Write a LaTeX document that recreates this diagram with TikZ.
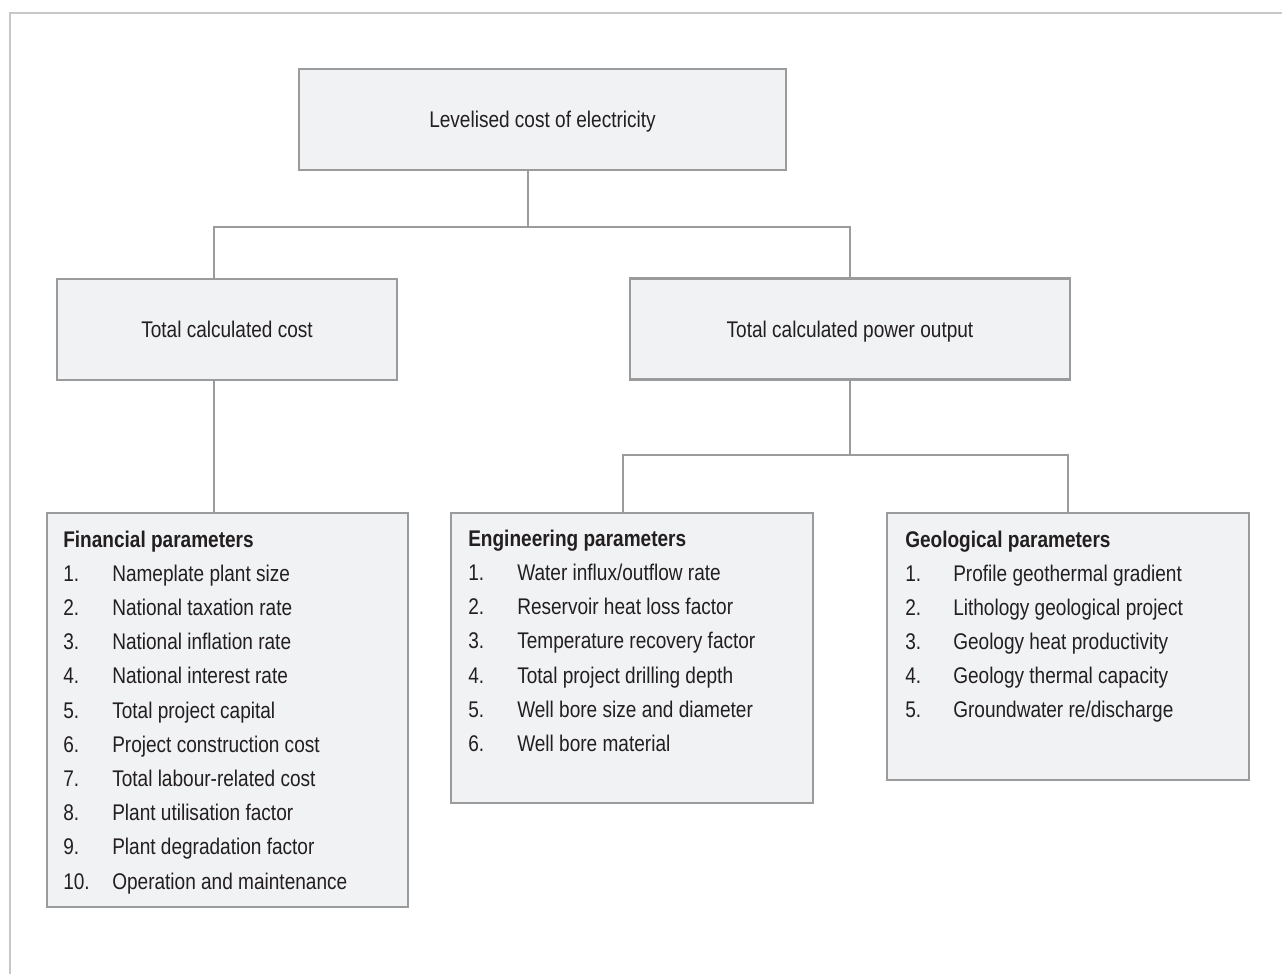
\documentclass[tikz,border=0pt]{standalone}
\usepackage{fontspec}
\setmainfont{Liberation Sans}[FakeStretch=0.84]
\definecolor{boxfill}{HTML}{F1F2F4}
\definecolor{boxline}{HTML}{9A9B9D}
\definecolor{framegray}{HTML}{C8C8C8}
\definecolor{inkgray}{HTML}{231F20}
\begin{document}
\begin{tikzpicture}[x=0.75pt,y=-0.75pt]
    \tikzset{
      cost box/.style 2 args={draw=boxline,line width=1.6pt,fill=boxfill,
        minimum width=#1*0.75pt,minimum height=#2*0.75pt,inner sep=0pt},
      label text/.style={text=inkgray,font=\fontsize{17pt}{20pt}\selectfont,inner sep=0pt},
      box text/.style={label text,text height=12pt,text depth=0pt},
      list text/.style={label text,anchor=base west},
      link/.style={draw=boxline,line width=1.5pt}
    }
    \useasboundingbox (0,0) rectangle (1282,974);
    \draw[framegray,line width=1.1pt] (10,974) -- (10,13) -- (1282,13);

    % upper levels
    \node [cost box={487}{101},box text] (lcoe) at (542.5,119.5) {Levelised cost of electricity};
    \node [cost box={340}{101},box text] (cost) at (227,329.5) {Total calculated cost};
    \node [cost box={440}{101},box text] (power) at (850,329) {Total calculated power output};

    % parameter boxes
    \node [cost box={361}{394}] (fin) at (227.5,710) {};
    \node [cost box={362}{290}] (eng) at (632,658) {};
    \node [cost box={362}{267}] (geo) at (1068,646.5) {};

    \node [list text,font=\fontsize{17pt}{20pt}\bfseries] (fin-head) at (63,547) {Financial parameters};
    \foreach \txt [count=\i] in {Nameplate plant size,National taxation rate,National inflation rate,
        National interest rate,Total project capital,Project construction cost,
        Total labour-related cost,Plant utilisation factor,Plant degradation factor,
        Operation and maintenance}{
      \node [list text] (fin-n\i) at (63,547+34.2*\i) {\i.};
      \node [list text] (fin-t\i) at (112,547+34.2*\i) {\txt};
    }

    \node [list text,font=\fontsize{17pt}{20pt}\bfseries] (eng-head) at (468,546) {Engineering parameters};
    \foreach \txt [count=\i] in {Water influx/outflow rate,Reservoir heat loss factor,
        Temperature recovery factor,Total project drilling depth,
        Well bore size and diameter,Well bore material}{
      \node [list text] (eng-n\i) at (468,546+34.3*\i) {\i.};
      \node [list text] (eng-t\i) at (517,546+34.3*\i) {\txt};
    }

    \node [list text,font=\fontsize{17pt}{20pt}\bfseries] (geo-head) at (905,547) {Geological parameters};
    \foreach \txt [count=\i] in {Profile geothermal gradient,Lithology geological project,
        Geology heat productivity,Geology thermal capacity,Groundwater re/discharge}{
      \node [list text] (geo-n\i) at (905,547+34*\i) {\i.};
      \node [list text] (geo-t\i) at (953,547+34*\i) {\txt};
    }

    % connectors
    \coordinate (split top) at (528,227);
    \coordinate (left drop) at (214,0);
    \coordinate (split power) at (850,455);
    \coordinate (eng drop) at (623,0);

    \draw[link] (lcoe.south -| split top) -- (split top);
    \draw[link] (cost.north -| left drop) |- (split top) -| (power.north);
    \draw[link] (cost.south -| left drop) -- (fin.north -| left drop);
    \draw[link] (power.south) -- (split power);
    \draw[link] (eng.north -| eng drop) |- (split power) -| (geo.north);
  \end{tikzpicture}
\end{document}
